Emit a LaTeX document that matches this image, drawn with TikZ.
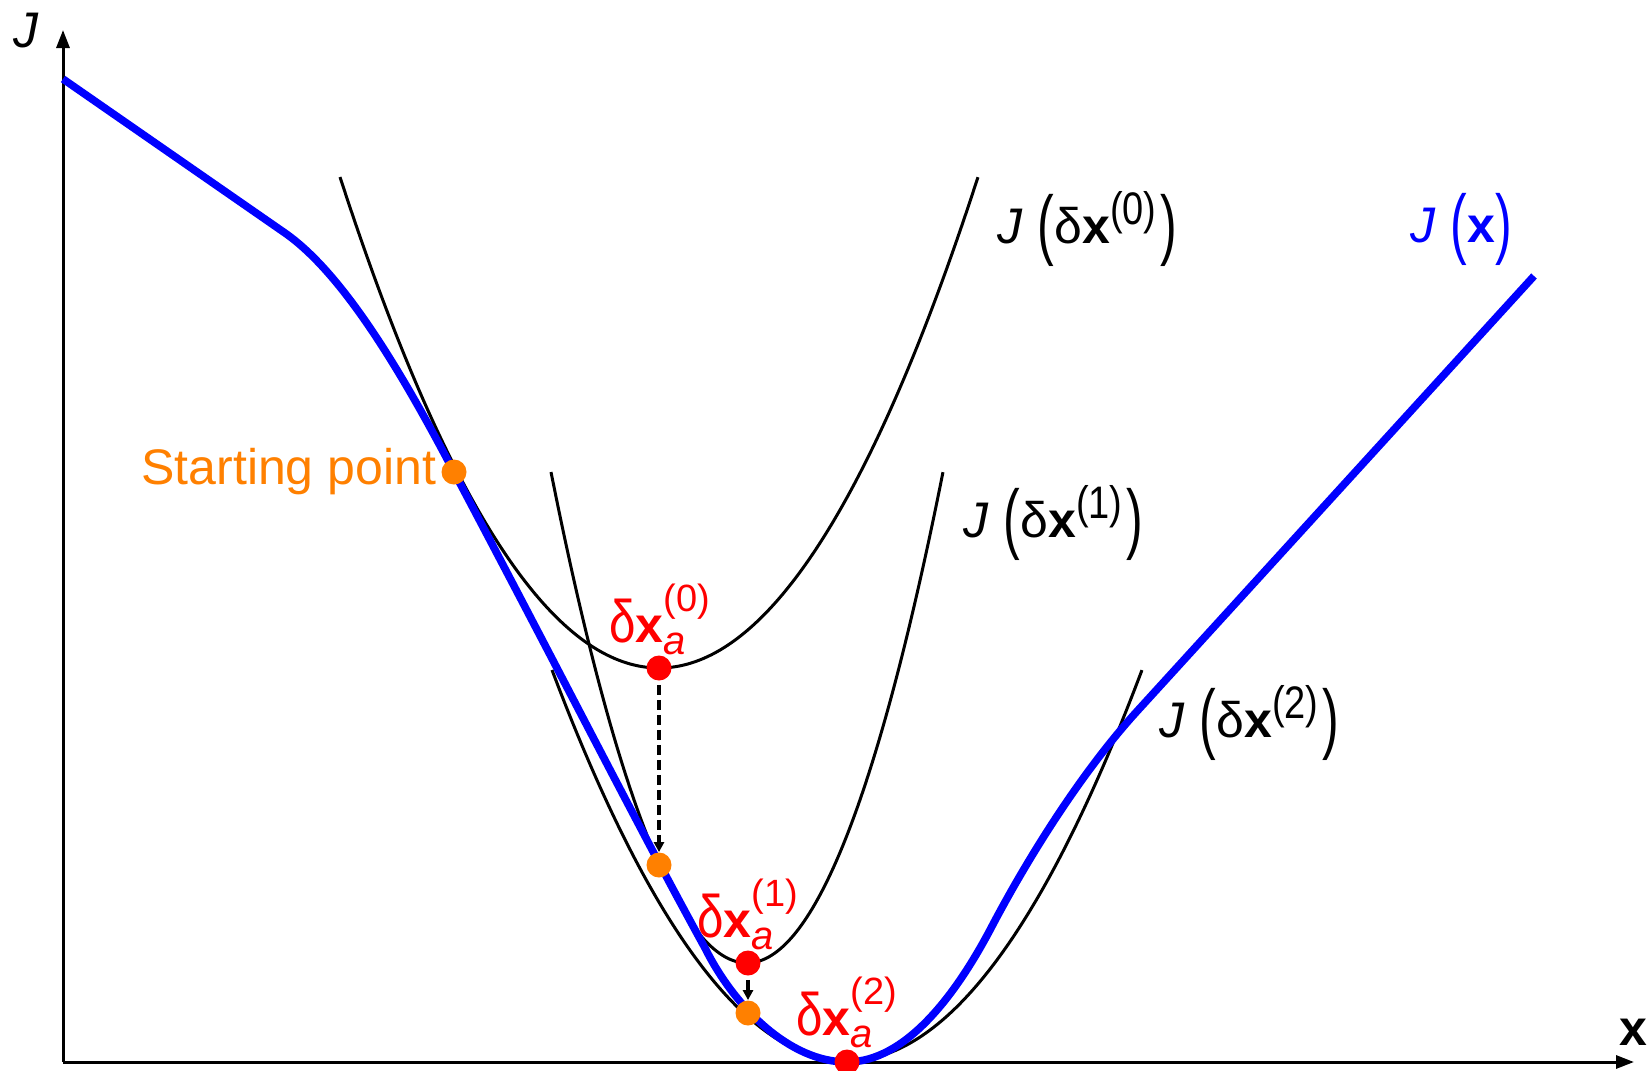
\documentclass[tikz,border=0pt]{standalone}
\usepackage{fontspec}
\setmainfont{Liberation Sans}
\usepackage{graphicx}
\usetikzlibrary{arrows.meta}
\definecolor{jblue}{RGB}{0,0,255}
\definecolor{jred}{RGB}{255,0,0}
\definecolor{jorange}{RGB}{255,128,0}
\newcommand\bigL{\raisebox{-0.14em}{\scalebox{1}[1.55]{(}}}
\newcommand\bigR{\raisebox{-0.14em}{\scalebox{1}[1.55]{)}}}
\newcommand\supn[1]{\raisebox{0.38em}{\scalebox{1}[1.2]{\fontsize{19}{19}\selectfont(#1)}}}
\newcommand\Jdx[1]{\textit{J}\hspace{0.3em}\bigL δ\textbf{x}\supn{#1}\hspace{0.08em}\bigR}
\newcommand\dxa[1]{\scalebox{0.95}[1.2]{δ}\textbf{x}\rlap{\raisebox{-0.24em}{\fontsize{20}{20}\selectfont\itshape a}}\raisebox{0.62em}{\fontsize{19}{19}\selectfont(#1)}}
\tikzset{
  axisline/.style={line width=1.5pt,-{Triangle[length=9pt,width=6.5pt]}},
  quadline/.style={line width=1.5pt,black},
  jcurve/.style={line width=3.8pt,jblue,line join=round},
  dot/.style={circle,minimum size=12.5pt,inner sep=0pt,draw=none},
  reddot/.style={dot,fill=jred},
  orangedot/.style={dot,fill=jorange},
  steparrow/.style={line width=2pt,dash pattern=on 5pt off 2.5pt,-{Triangle[length=5pt,width=5pt]},shorten <=2pt},
  blacklab/.style={anchor=base west,inner sep=0pt,font=\fontsize{25}{30}\selectfont},
  redlab/.style={anchor=base west,inner sep=0pt,text=jred,font=\fontsize{25}{30}\selectfont},
}
\begin{document}
\begin{tikzpicture}[x=0.5pt,y=-0.5pt]
\useasboundingbox (0,0) rectangle (1650,1071);
% axes
\coordinate (O) at (63,1062);
\coordinate (ytip) at (63,30);
\coordinate (xtip) at (1634,1062);
\draw[axisline] (O) -- (ytip);
\draw[axisline] (O) -- (xtip);
\node[anchor=base west,inner sep=0pt,font=\fontsize{25}{30}\selectfont] (ylab) at (13,47) {\textit{J}};
\node[anchor=base west,inner sep=0pt,font=\fontsize{25}{30}\selectfont\bfseries] (xlab) at (1619,1045) {x};
% quadratic approximations
\draw[quadline,domain=-1:1,samples=80,smooth] plot ({659+319*\x},{668-491*\x*\x});
\draw[quadline,domain=-1:1,samples=80,smooth] plot ({747+196*\x},{963-491*\x*\x});
\draw[quadline,domain=-1:1,samples=80,smooth] plot ({847+295*\x},{1061-391*\x*\x});
% cost function
\draw[jcurve] (63,79) -- (285,233)
  .. controls (345,275) and (404,377) .. (454,472)
  .. controls (560,672) and (640,830) .. (705,948)
  .. controls (735,1008) and (790,1062) .. (847,1062)
  .. controls (905,1062) and (955,996) .. (990,930)
  .. controls (1025,863) and (1080,773) .. (1140,708)
  -- (1534,276);
% points
\node[orangedot] (s0) at (454,472) {};
\node[reddot] (m0) at (659,668) {};
\node[orangedot] (s1) at (659,865) {};
\node[reddot] (m1) at (748,963) {};
\node[orangedot] (s2) at (748,1013) {};
\node[reddot] (m2) at (847,1062) {};
\draw[steparrow] (m0) -- (s1);
\draw[steparrow] (m1) -- (s2);
% labels
\node[anchor=base west,inner sep=0pt,text=jorange,font=\fontsize{25}{30}\selectfont] (startlab) at (141,484) {Starting point};
\node[blacklab] (l0) at (997,243) {\Jdx{0}};
\node[blacklab] (l1) at (963,537) {\Jdx{1}};
\node[blacklab] (l2) at (1159,737) {\Jdx{2}};
\node[blacklab,text=jblue] (lJ) at (1410,242) {\textit{J}\hspace{0.3em}\bigL\textbf{x}\bigR};
\node[redlab] (r0) at (609,642) {\dxa{0}};
\node[redlab] (r1) at (697,937) {\dxa{1}};
\node[redlab] (r2) at (796,1035) {\dxa{2}};
\end{tikzpicture}
\end{document}
